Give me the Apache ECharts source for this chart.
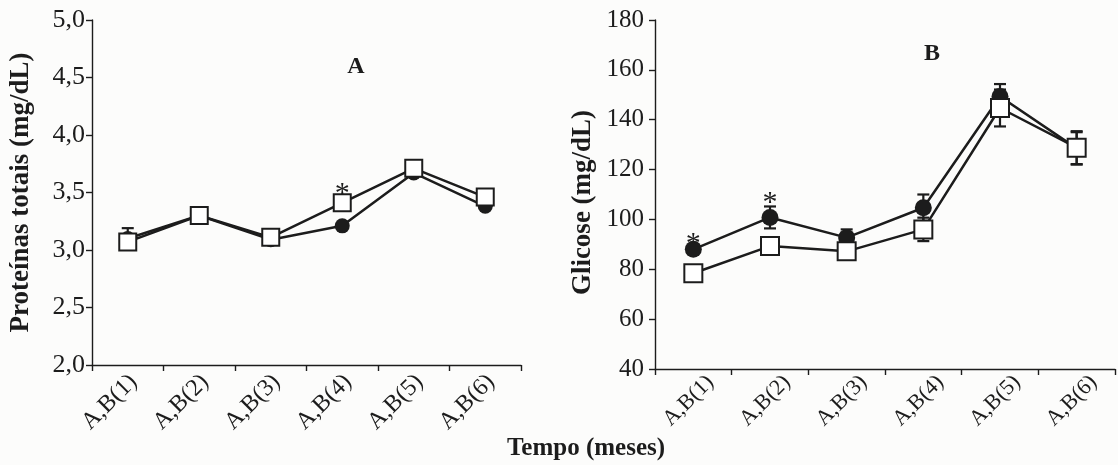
<!DOCTYPE html>
<html>
<head>
<meta charset="utf-8">
<script src="https://cdn.jsdelivr.net/npm/echarts@6/dist/echarts.min.js"></script>
<style>
html,body{margin:0;padding:0;background:#fcfcfb;}
#c{width:1118px;height:465px;}
</style>
</head>
<body>
<div id="c"></div>
<script>
const categories = ['A,B(1)','A,B(2)','A,B(3)','A,B(4)','A,B(5)','A,B(6)'];

// Panel A: Proteínas totais (mg/dL)
const protCircle = [3.10, 3.30, 3.09, 3.21, 3.67, 3.38];
const protSquare = [3.07, 3.30, 3.11, 3.41, 3.71, 3.46];
const protCircleErr = [0.09, 0, 0, 0, 0, 0];
const protSquareErr = [0, 0, 0, 0, 0, 0];
const protStars = [false, false, false, true, false, false]; // above square

// Panel B: Glicose (mg/dL)
const glicCircle = [88.0, 100.8, 92.7, 104.7, 149.3, 128.5];
const glicSquare = [78.4, 89.3, 87.2, 96.0, 144.7, 128.8];
const glicCircleErr = [0, 4.4, 3.3, 5.3, 5.0, 6.5];
const glicSquareErr = [0, 0, 0, 4.7, 7.4, 6.6];
const glicStars = [true, true, false, false, false, false]; // above circle

const FONT = '"Liberation Serif", "DejaVu Serif", serif';
const INK = '#1c1c1c';

function errData(vals, errs) {
  const out = [];
  vals.forEach((v, i) => { if (errs[i] > 0) out.push([i, v - errs[i], v + errs[i]]); });
  return out;
}
function errRender(params, api) {
  const x = api.value(0);
  const pLo = api.coord([x, api.value(1)]);
  const pHi = api.coord([x, api.value(2)]);
  const hw = 6;
  const style = {stroke: INK, lineWidth: 2.2, fill: null};
  return {type: 'group', children: [
    {type: 'line', shape: {x1: pLo[0], y1: pLo[1], x2: pHi[0], y2: pHi[1]}, style: style},
    {type: 'line', shape: {x1: pLo[0]-hw, y1: pLo[1], x2: pLo[0]+hw, y2: pLo[1]}, style: style},
    {type: 'line', shape: {x1: pHi[0]-hw, y1: pHi[1], x2: pHi[0]+hw, y2: pHi[1]}, style: style}
  ]};
}
function starItem(v, dy) {
  return {value: v, label: {show: true, formatter: '*', position: 'inside', offset: [0, -dy],
    fontFamily: FONT, fontSize: 30, color: INK}};
}

const axisLine = {show: true, lineStyle: {color: INK, width: 1.4}};
function xAxis(gi, fontSize, shift, margin) {
  return {
    type: 'category', gridIndex: gi, data: categories, boundaryGap: true,
    axisLine: axisLine, splitLine: {show: false},
    axisTick: {show: true, length: 6, lineStyle: {color: INK, width: 1.4}},
    axisLabel: {rotate: 45, fontFamily: FONT, fontSize: fontSize, color: INK,
      margin: margin, interval: 0, padding: [0, -shift, 0, 0]}
  };
}
function yAxis(gi, min, max, interval, name, nameGap, fontSize, margin, fmt, namePad) {
  return {
    type: 'value', gridIndex: gi, min: min, max: max, interval: interval,
    name: name, nameLocation: 'middle', nameRotate: 90, nameGap: nameGap,
    nameTextStyle: {fontFamily: FONT, fontSize: 27, fontWeight: 'bold', color: INK, padding: namePad},
    axisLine: axisLine, splitLine: {show: false},
    axisTick: {show: true, length: 6, lineStyle: {color: INK, width: 1.4}},
    axisLabel: {fontFamily: FONT, fontSize: fontSize, color: INK, margin: margin, formatter: fmt}
  };
}

const lineStyle = {color: INK, width: 2.5};

const option = {
  backgroundColor: '#fcfcfb',
  animation: false,
  grid: [
    {left: 92, top: 20, width: 429, height: 345},
    {left: 655, top: 20, width: 460, height: 349}
  ],
  xAxis: [xAxis(0, 24, 8, 19), xAxis(1, 22, 24, 27)],
  yAxis: [
    yAxis(0, 2, 5, 0.5, 'Proteínas totais (mg/dL)', 57, 26, 7, v => v.toFixed(1).replace('.', ','), [0, 0, 0, 0]),
    yAxis(1, 40, 180, 20, 'Glicose (mg/dL)', 58, 25, 11, v => String(v), [0, 16, 0, 0])
  ],
  graphic: [
    {type: 'text', x: 356, y: 67, style: {text: 'A', font: 'bold 24px ' + FONT, fill: INK, align: 'center', verticalAlign: 'middle'}},
    {type: 'text', x: 932, y: 54, style: {text: 'B', font: 'bold 24px ' + FONT, fill: INK, align: 'center', verticalAlign: 'middle'}},
    {type: 'text', x: 586, y: 449, style: {text: 'Tempo (meses)', font: 'bold 25px ' + FONT, fill: INK, align: 'center', verticalAlign: 'middle'}}
  ],
  series: [
    {type: 'custom', xAxisIndex: 0, yAxisIndex: 0, renderItem: errRender, z: 1,
      encode: {x: 0, y: [1, 2]}, data: errData(protCircle, protCircleErr)},
    {type: 'custom', xAxisIndex: 0, yAxisIndex: 0, renderItem: errRender, z: 1,
      encode: {x: 0, y: [1, 2]}, data: errData(protSquare, protSquareErr)},
    {type: 'line', xAxisIndex: 0, yAxisIndex: 0, data: protCircle, symbol: 'circle', symbolSize: 15,
      itemStyle: {color: INK}, lineStyle: lineStyle, z: 2},
    {type: 'line', xAxisIndex: 0, yAxisIndex: 0,
      data: protSquare.map((v, i) => protStars[i] ? starItem(v, 9) : v),
      symbol: 'rect', symbolSize: 17,
      itemStyle: {color: '#ffffff', borderColor: INK, borderWidth: 2}, lineStyle: lineStyle, z: 3},

    {type: 'custom', xAxisIndex: 1, yAxisIndex: 1, renderItem: errRender, z: 1,
      encode: {x: 0, y: [1, 2]}, data: errData(glicCircle, glicCircleErr)},
    {type: 'custom', xAxisIndex: 1, yAxisIndex: 1, renderItem: errRender, z: 1,
      encode: {x: 0, y: [1, 2]}, data: errData(glicSquare, glicSquareErr)},
    {type: 'line', xAxisIndex: 1, yAxisIndex: 1,
      data: glicCircle.map((v, i) => glicStars[i] ? starItem(v, glicCircleErr[i] > 0 ? 14 : 5) : v),
      symbol: 'circle', symbolSize: 17, itemStyle: {color: INK}, lineStyle: lineStyle, z: 2},
    {type: 'line', xAxisIndex: 1, yAxisIndex: 1, data: glicSquare, symbol: 'rect', symbolSize: 18,
      itemStyle: {color: '#ffffff', borderColor: INK, borderWidth: 2}, lineStyle: lineStyle, z: 3}
  ]
};
const chart = echarts.init(document.getElementById('c'), null, {renderer: 'canvas'});
chart.setOption(option);
</script>
</body>
</html>
